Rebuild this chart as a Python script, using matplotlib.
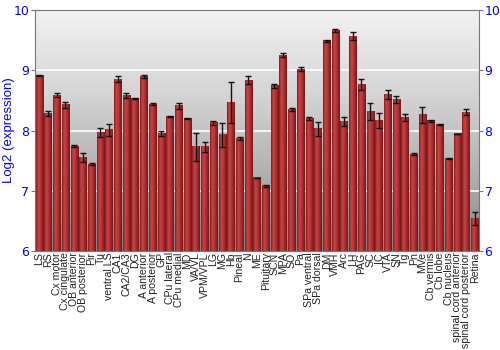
import numpy as np
import matplotlib
matplotlib.use("Agg")
import matplotlib.pyplot as plt
from matplotlib.colors import LinearSegmentedColormap

regions = ["LS", "RS", "Cx motor", "Cx cingulate", "OB anterior", "OB posterior", "Pir", "Tu",
           "ventral LS", "CA1", "CA2/CA3", "DG", "A anterior", "A posterior", "GP", "CPu lateral",
           "CPu medial", "MD", "VA/VL", "VPM/VPL", "LG", "MG", "Hb", "Pineal", "N", "ME",
           "Pituitary", "SCN", "MPA", "SO", "Pa", "SPa ventral", "SPa dorsal", "DM", "VMH", "Arc",
           "LH", "PAG", "SC", "IC", "VTA", "SN", "Tg", "Pn", "MVe", "Cb vermis", "Cb lobe",
           "Cb nucleus", "spinal cord anterior", "spinal cord posterior", "Retina"]
values = [8.91, 8.28, 8.59, 8.43, 7.74, 7.55, 7.44, 7.97,
          8.01, 8.85, 8.58, 8.535, 8.895, 8.44, 7.95, 8.23,
          8.41, 8.20, 7.73, 7.73, 8.13, 7.93, 8.46, 7.87, 8.84, 7.215,
          7.08, 8.745, 9.255, 8.35, 9.02, 8.20, 8.03, 9.49, 9.66, 8.15,
          9.57, 8.76, 8.31, 8.165, 8.60, 8.51, 8.22, 7.61, 8.26, 8.16, 8.095,
          7.535, 7.945, 8.30, 6.535]
errors = [0.01, 0.04, 0.03, 0.05, 0.02, 0.07, 0.015, 0.07,
          0.10, 0.05, 0.04, 0.01, 0.03, 0.02, 0.045, 0.005,
          0.05, 0.005, 0.23, 0.08, 0.03, 0.2, 0.34, 0.03, 0.06, 0.005,
          0.02, 0.03, 0.03, 0.02, 0.03, 0.03, 0.12, 0.02, 0.02, 0.08,
          0.06, 0.09, 0.14, 0.13, 0.07, 0.06, 0.06, 0.02, 0.13, 0.02, 0.01,
          0.003, 0.005, 0.05, 0.11]
yticks = [6, 7, 8, 9, 10]

fig = plt.figure(figsize=(5, 3.5), dpi=100)
ax = fig.add_axes([0.07, 0.283, 0.888, 0.688])

x = np.arange(len(regions))
w = 0.84
ymin, ymax = 6, 10
xlo, xhi = -0.5, len(regions) - 0.5

# background vertical gradient
bg = LinearSegmentedColormap.from_list("bg", ["#858585", "#b2b2b2", "#d6d6d6", "#f2f2f2"])
grad = np.linspace(0, 1, 256).reshape(-1, 1)
ax.imshow(grad, extent=[xlo, xhi, ymin, ymax], origin="lower", aspect="auto", cmap=bg, zorder=0)

for yv in yticks[1:-1]:
    ax.axhline(yv, color="white", lw=1.2, zorder=1)

# bars with horizontal gradient shading
barcmap = LinearSegmentedColormap.from_list(
    "bar", [(0, "#7e1b1b"), (0.25, "#c24444"), (0.45, "#c03c3c"), (0.8, "#9a2424"), (1, "#6e1616")])
hgrad = np.linspace(0, 1, 64).reshape(1, -1)
bars = ax.bar(x, np.array(values) - ymin, bottom=ymin, width=w, color="none", zorder=2)
for b in bars:
    bx, by = b.get_x(), b.get_y()
    bw, bh = b.get_width(), b.get_height()
    ax.imshow(hgrad, extent=[bx, bx + bw, by, by + bh], aspect="auto", cmap=barcmap, zorder=2)

ax.errorbar(x, values, yerr=errors, fmt="none", ecolor="#111111", elinewidth=1, capsize=2,
            capthick=1, zorder=3)

ax.set_xlim(xlo, xhi)
ax.set_ylim(ymin, ymax)
ax.set_yticks(yticks)
ax.set_xticks(x)
ax.set_xticklabels(regions, rotation=90, fontsize=7.6, color="#222222", family="Liberation Sans")
ax.tick_params(axis="x", length=0, pad=1)
ax.tick_params(axis="y", colors="#777777", labelcolor="blue", labelsize=9, length=3,
               left=True, right=True, labelleft=True, labelright=True, pad=1)
ax.set_ylabel("Log2 (expression)", color="blue", fontsize=9.5, family="Liberation Sans")
ax.yaxis.set_label_coords(-0.045, 0.5)
for s in ax.spines.values():
    s.set_color("#777777")

fig.savefig("out.png", dpi=100)
